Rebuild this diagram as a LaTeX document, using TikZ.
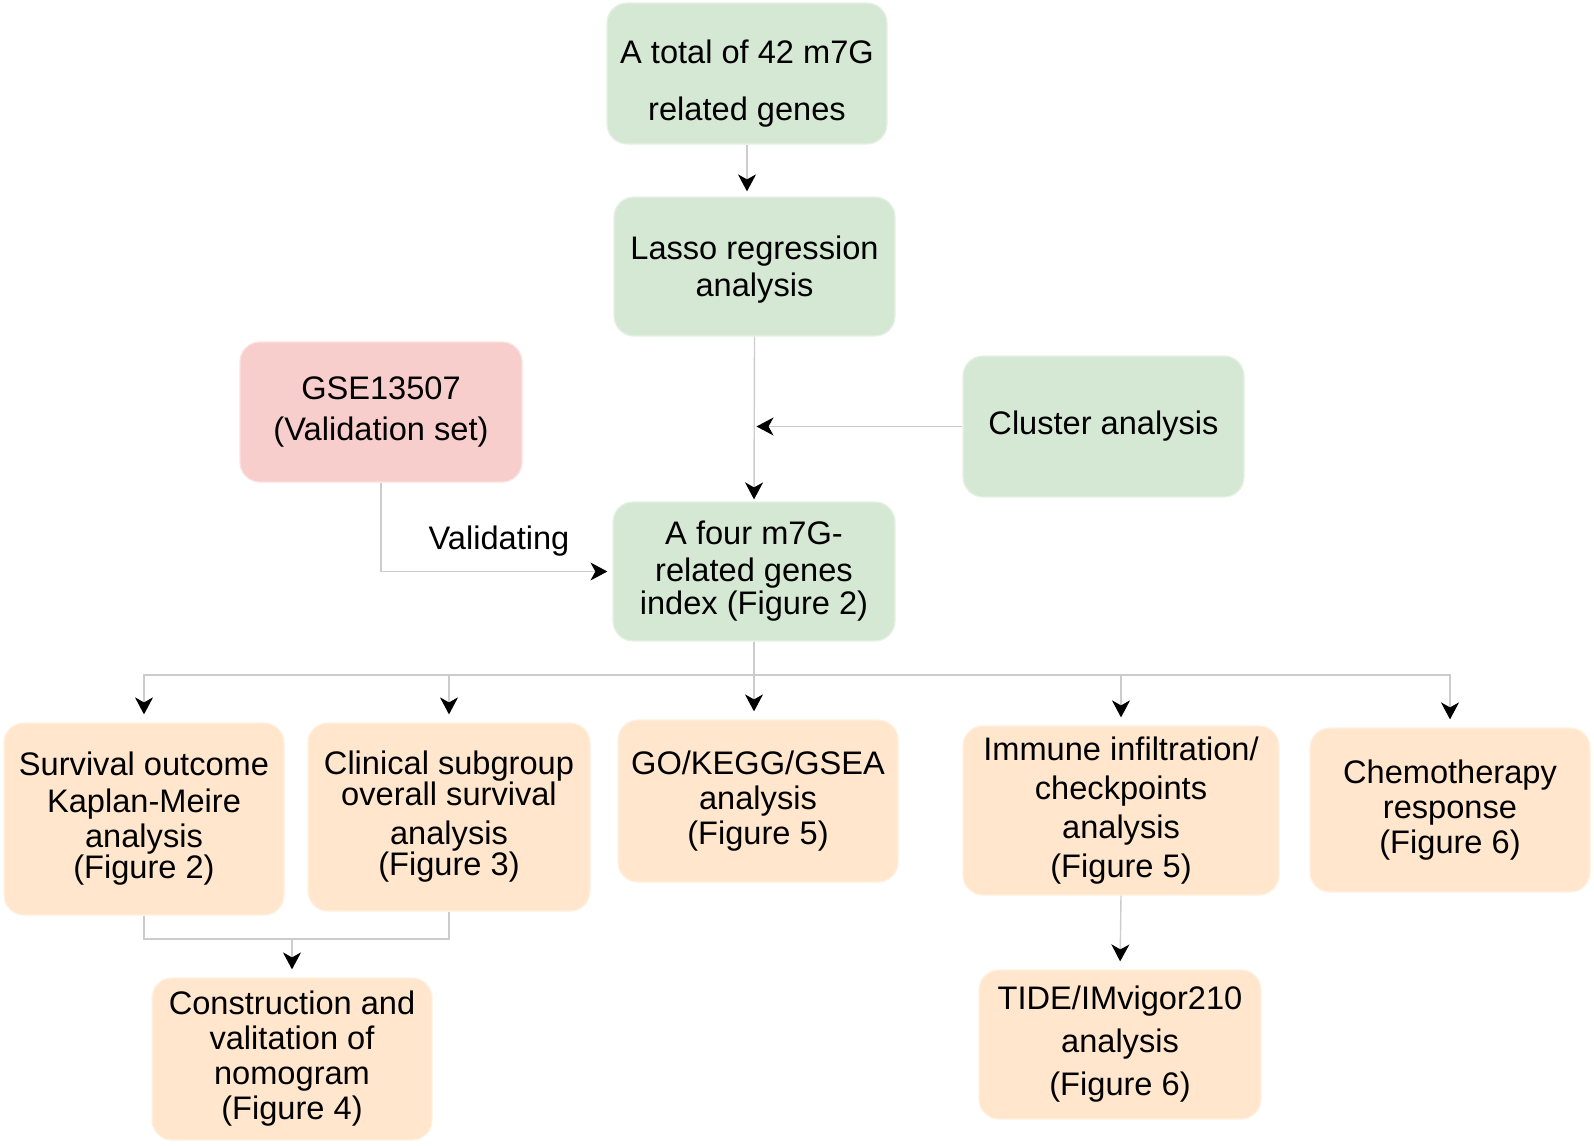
\documentclass[tikz,border=0pt]{standalone}
\usepackage{fontspec}
\setmainfont{Liberation Sans}
\usetikzlibrary{arrows.meta}
\definecolor{gfill}{HTML}{D5E8D4}
\definecolor{rfill}{HTML}{F8CECC}
\definecolor{ofill}{HTML}{FFE6CC}
\definecolor{lgray}{HTML}{CCCCCC}
\begin{document}
\begin{tikzpicture}[x=0.5pt, y=-0.5pt,
        box/.style = {rounded corners=10pt, align=center, inner sep=2pt,
            font=\fontsize{16.3}{18.5}\selectfont, line width=0.6pt},
        gbox/.style = {box, fill=gfill, draw=gfill!60!white},
        rbox/.style = {box, fill=rfill, draw=rfill!60!white},
        obox/.style = {box, fill=ofill, draw=ofill!60!white},
        link/.style = {draw=lgray, line width=0.7pt},
        arr/.style = {link, -{Stealth[length=8.5pt, width=9pt, inset=2.5pt, color=black]}}
    ]
        \useasboundingbox (0, 0) rectangle (1594, 1145);
        \draw[draw=none]
            (747, 73.5) node (total) [gbox, minimum width=140pt, minimum height=70.5pt] {\rule{0pt}{22pt}A total of 42 m7G\\[10pt] related genes}
            (754.5, 266.5) node (lasso) [gbox, minimum width=140.5pt, minimum height=69.5pt] {\rule{0pt}{15pt}Lasso regression\\ analysis}
            (381, 412) node (gse) [rbox, minimum width=141pt, minimum height=70pt] {GSE13507\\[2pt] (Validation set)}
            (1103.5, 426.5) node (cluster) [gbox, minimum width=140.5pt, minimum height=70.5pt] {Cluster analysis}
            (754, 571.5) node (index) [gbox, minimum width=141pt, minimum height=69.5pt] {A four m7G-\\ related genes\\[-2pt] index (Figure 2)}
            (144, 819) node (surv) [obox, minimum width=140pt, minimum height=96pt] {Survival outcome\\ Kaplan-Meire\\[-1pt] analysis\\[-3pt] (Figure 2)}
            (449, 817) node (clin) [obox, minimum width=141pt, minimum height=94pt] {Clinical subgroup\\[-3pt] overall survival\\[1pt] analysis\\[-3pt] (Figure 3)}
            (758, 801) node (go) [obox, minimum width=140pt, minimum height=81pt] {GO/KEGG/GSEA\\[-1pt] analysis\\[-1pt] (Figure 5)}
            (1121, 810.5) node (immune) [obox, minimum width=158pt, minimum height=84.5pt] {Immune infiltration/\\[1pt] checkpoints\\[1pt] analysis\\[1pt] (Figure 5)}
            (1450, 810) node (chemo) [obox, minimum width=140pt, minimum height=82pt] {Chemotherapy\\[-1pt] response\\[-1pt] (Figure 6)}
            (292, 1059) node (nomo) [obox, minimum width=140pt, minimum height=81pt] {Construction and\\[-1pt] valitation of\\[-1pt] nomogram\\[-1pt] (Figure 4)}
            (1120, 1044.5) node (tide) [obox, minimum width=141pt, minimum height=74.5pt] {TIDE/IMvigor210\\[3pt] analysis\\[3pt] (Figure 6)}
            (499, 541) node (valid) [font=\fontsize{16.3}{18.5}\selectfont] {Validating}
        ;
        \coordinate (split) at (754, 675);
        \coordinate (merge) at (292, 939);

        \draw[arr, shorten >=2.5pt] (total.south) -- (total.south |- lasso.north);
        \draw[arr, shorten >=1pt] (lasso.south) -- (index.north);
        \draw[arr, shorten >=1pt] (cluster.west) -- (lasso.south |- cluster.west);
        \draw[arr, shorten >=2.5pt] (gse.south) |- (index.west);

        \draw[link] (index.south) -- (split);
        \draw[arr, shorten >=4pt] (split) -| (surv.north);
        \draw[arr, shorten >=4pt] (split) -| (clin.north);
        \draw[arr, shorten >=4pt] (split) -- (split |- go.north);
        \draw[arr, shorten >=4pt] (split) -| (immune.north);
        \draw[arr, shorten >=4pt] (split) -| (chemo.north);

        \draw[link] (surv.south) |- (merge) -| (clin.south);
        \draw[arr, shorten >=4pt] (merge) -- (nomo.north);
        \draw[arr, shorten >=4pt] (immune.south) -- (tide.north);
    \end{tikzpicture}
\end{document}
